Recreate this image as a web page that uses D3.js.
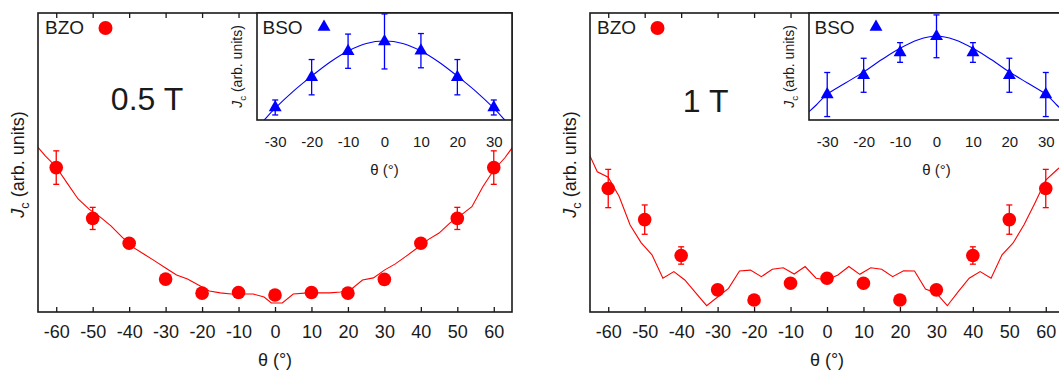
<!DOCTYPE html>
<html>
<head>
<meta charset="utf-8">
<script src="https://cdn.jsdelivr.net/npm/d3@7"></script>
<style>
  body { margin: 0; background: #fff; }
  svg { display: block; font-family: "Liberation Sans", Arial, Helvetica, sans-serif; }
</style>
</head>
<body>
<div id="chart"></div>
<script>
// angles and tick values
const mainTicks = [-60, -50, -40, -30, -20, -10, 0, 10, 20, 30, 40, 50, 60];
const insetTicks = [-30, -20, -10, 0, 10, 20, 30];
const bzoAngles = [-60, -50, -40, -30, -20, -10, 0, 10, 20, 30, 40, 50, 60];
const bsoAngles = [-30, -20, -10, 0, 10, 20, 30];
const fieldLabels = ['0.5 T', '1 T'];

// BZO measured Jc (arb. units, 0..100) and errors
const bzo05 = [48.3, 31.3, 23.0, 11.0, 6.3, 6.5, 5.7, 6.5, 6.3, 10.9, 23.0, 31.3, 48.3];
const bzo05Err = [5.6, 3.7, 0, 0, 0, 0, 0, 0, 0, 0, 0, 3.7, 5.6];
const bzo1 = [41.3, 30.9, 18.9, 7.4, 4.0, 9.6, 11.3, 9.6, 4.0, 7.4, 18.9, 30.9, 41.3];
const bzo1Err = [6.4, 4.9, 2.9, 0, 0, 0, 0, 0, 0, 0, 2.9, 4.9, 6.4];

// simulated curves
const simAngles05 = [-66, -63, -60, -57, -54, -51, -48, -45, -42, -39, -36, -33, -30, -27, -24, -21, -18, -15, -12, -9, -6, -3, -1,
  2, 5, 9, 12, 15, 18, 21, 24, 27, 30, 33, 36, 39, 42, 45, 48, 51, 54, 57, 60, 63, 66];
const sim05 = [56.5, 52.2, 48.5, 43.1, 37.8, 34.4, 31.8, 28.8, 25.1, 21.7, 19.4, 17.1, 14.7, 12.4, 11.0, 9.0, 7.0, 6.4, 6.0, 6.0, 6.0, 5.0, 3.0,
  3.0, 6.0, 6.4, 6.4, 6.4, 6.7, 7.7, 10.7, 11.4, 14.0, 16.1, 18.7, 21.4, 24.2, 26.4, 29.8, 32.4, 35.2, 41.9, 47.5, 51.5, 56.5];
const simAngles1 = [-66, -63, -60, -57, -54, -51, -48, -45, -42, -39, -36, -33, -30, -27, -24, -21, -18, -15, -12, -9, -6, -3, 0,
  3, 6, 9, 12, 15, 18, 21, 24, 27, 30, 33, 36, 39, 42, 45, 48, 51, 54, 57, 60, 63, 66];
const sim1 = [54.8, 46.9, 45.1, 38.6, 29.1, 23.2, 19.1, 11.3, 13.5, 10.7, 6.4, 2.1, 5.0, 7.9, 13.7, 14.0, 11.8, 14.3, 14.8, 12.7, 15.2, 11.3, 10.7,
  12.4, 15.2, 12.6, 14.8, 14.3, 11.8, 13.8, 13.7, 7.7, 6.3, 2.1, 6.8, 11.3, 13.5, 11.3, 19.1, 23.0, 29.1, 36.4, 44.1, 47.5, 50.8];

// BSO inset (arb. units, 0..1)
const bso05 = [0.117, 0.40, 0.643, 0.734, 0.648, 0.40, 0.117];
const bso05Err = [0.07, 0.165, 0.16, 0.257, 0.16, 0.165, 0.07];
const bso1 = [0.238, 0.418, 0.631, 0.782, 0.631, 0.418, 0.238];
const bso1Err = [0.206, 0.159, 0.092, 0.2, 0.092, 0.159, 0.206];
const fitAngles = [-35, -33, -30, -25, -20, -15, -10, -5, 0, 5, 10, 15, 20, 25, 30, 33, 35];
const fit05 = [-0.08, 0, 0.11, 0.27, 0.41, 0.54, 0.645, 0.715, 0.738, 0.715, 0.645, 0.54, 0.41, 0.27, 0.11, 0, -0.08];
const fit1 = [0.078, 0.14, 0.24, 0.345, 0.45, 0.565, 0.67, 0.75, 0.785, 0.75, 0.67, 0.565, 0.45, 0.345, 0.24, 0.14, 0.078];

const panels = [
  { x0: 38, label: fieldLabels[0], labelX: 109, labelY: 96.5,
    bzo: bzo05, bzoErr: bzo05Err, simX: simAngles05, sim: sim05,
    bso: bso05, bsoErr: bso05Err, fit: fit05 },
  { x0: 590, label: fieldLabels[1], labelX: 115.7, labelY: 98.7,
    bzo: bzo1, bzoErr: bzo1Err, simX: simAngles1, sim: sim1,
    bso: bso1, bsoErr: bso1Err, fit: fit1 }
];

const W = 1059, H = 373;
const plotTop = 13, width = 474, height = 299;
const inset = { left: 219, width: 255, height: 107 };
const red = '#ff0000', blue = '#0000ff', ink = '#1a1a1a';
const plain = d => String(d);   // keep ASCII hyphen like the original

const svg = d3.select('#chart').append('svg')
  .attr('width', W)
  .attr('height', H);

function errorBars(g, data, x, y, color) {
  const eb = g.append('g').attr('stroke', color).attr('stroke-width', 1.3);
  data.filter(d => d.e > 0).forEach(d => {
    const cx = x(d.a), y1 = y(d.v - d.e), y2 = y(d.v + d.e);
    eb.append('line').attr('x1', cx).attr('x2', cx).attr('y1', y1).attr('y2', y2);
    eb.append('line').attr('x1', cx - 3).attr('x2', cx + 3).attr('y1', y1).attr('y2', y1);
    eb.append('line').attr('x1', cx - 3).attr('x2', cx + 3).attr('y1', y2).attr('y2', y2);
  });
}

function yLabel(g, x, y, size) {
  const t = g.append('text')
    .attr('transform', `translate(${x},${y}) rotate(-90)`)
    .attr('text-anchor', 'middle')
    .attr('font-size', size)
    .attr('fill', ink);
  t.append('tspan').attr('font-style', 'italic').text('J');
  t.append('tspan').attr('font-size', size * 0.7).attr('dy', size * 0.25).text('c');
  t.append('tspan').attr('dy', -size * 0.25).text(' (arb. units)');
}

panels.forEach((p, i) => {
  const g = svg.append('g').attr('transform', `translate(${p.x0},${plotTop})`);

  const x = d3.scaleLinear().domain([-65, 65]).range([0, width]);
  const y = d3.scaleLinear().domain([0, 100]).range([height, 0]);

  const clipId = 'clip' + i;
  g.append('clipPath').attr('id', clipId)
    .append('rect').attr('width', width).attr('height', height);

  // bottom axis, inward ticks
  const xb = g.append('g')
    .attr('transform', `translate(0,${height})`)
    .call(d3.axisBottom(x).tickValues(mainTicks).tickFormat(plain).tickSize(-5).tickPadding(13));
  xb.select('.domain').remove();
  xb.selectAll('line').attr('stroke', ink).attr('stroke-width', 1.3);
  xb.selectAll('text').attr('font-size', 18).attr('fill', ink)
    .attr('font-family', '"Liberation Sans", Arial, sans-serif');

  const xt = g.append('g')
    .call(d3.axisTop(x).tickValues(mainTicks).tickSize(-5).tickFormat(''));
  xt.select('.domain').remove();
  xt.selectAll('line').attr('stroke', ink).attr('stroke-width', 1.3);

  g.append('text')
    .attr('x', width / 2).attr('y', 353)
    .attr('text-anchor', 'middle')
    .attr('font-size', 18).attr('fill', ink)
    .text('θ (°)');

  yLabel(g, -14, height / 2 + 2, 18);

  // simulation line
  g.append('path')
    .datum(p.simX.map((a, k) => ({ a, v: p.sim[k] })))
    .attr('clip-path', `url(#${clipId})`)
    .attr('fill', 'none')
    .attr('stroke', red)
    .attr('stroke-width', 1.1)
    .attr('d', d3.line().x(d => x(d.a)).y(d => y(d.v)));

  const pts = bzoAngles.map((a, k) => ({ a, v: p.bzo[k], e: p.bzoErr[k] }));
  errorBars(g, pts, x, y, red);
  g.append('g').selectAll('circle')
    .data(pts)
    .join('circle')
    .attr('cx', d => x(d.a))
    .attr('cy', d => y(d.v))
    .attr('r', 6.8)
    .attr('fill', red);

  // legend + field
  g.append('text').attr('x', 7).attr('y', 21)
    .attr('font-size', 19).attr('fill', ink).text('BZO');
  g.append('circle').attr('cx', 67.5).attr('cy', 15).attr('r', 7).attr('fill', red);
  g.append('text').attr('x', p.labelX).attr('y', p.labelY)
    .attr('text-anchor', 'middle')
    .attr('font-size', 32).attr('fill', ink).text(p.label);

  g.append('rect')
    .attr('width', width).attr('height', height)
    .attr('fill', 'none').attr('stroke', ink).attr('stroke-width', 1.6);

  // inset
  const ig = g.append('g').attr('transform', `translate(${inset.left},0)`);
  const ix = d3.scaleLinear().domain([-35, 35]).range([0, inset.width]);
  const iy = d3.scaleLinear().domain([0, 1]).range([inset.height, 0]);
  const iclip = 'iclip' + i;
  ig.append('clipPath').attr('id', iclip)
    .append('rect').attr('width', inset.width).attr('height', inset.height);

  ig.append('rect')
    .attr('width', inset.width).attr('height', inset.height)
    .attr('fill', '#fff');

  const ia = ig.append('g')
    .attr('transform', `translate(0,${inset.height})`)
    .call(d3.axisBottom(ix).tickValues(insetTicks).tickFormat(plain).tickSize(0).tickPadding(16));
  ia.select('.domain').remove();
  ia.selectAll('text').attr('font-size', 15).attr('fill', ink)
    .attr('font-family', '"Liberation Sans", Arial, sans-serif');

  ig.append('text')
    .attr('x', inset.width / 2).attr('y', 162)
    .attr('text-anchor', 'middle')
    .attr('font-size', 15).attr('fill', ink)
    .text('θ (°)');

  yLabel(ig, -15, inset.height / 2, 14);

  ig.append('path')
    .datum(fitAngles.map((a, k) => ({ a, v: p.fit[k] })))
    .attr('clip-path', `url(#${iclip})`)
    .attr('fill', 'none')
    .attr('stroke', blue)
    .attr('stroke-width', 1.1)
    .attr('d', d3.line().curve(d3.curveCardinal).x(d => ix(d.a)).y(d => iy(d.v)));

  const bpts = bsoAngles.map((a, k) => ({ a, v: p.bso[k], e: p.bsoErr[k] }));
  errorBars(ig, bpts, ix, iy, blue);
  const tri = d3.symbol().type(d3.symbolTriangle).size(72);
  ig.append('g').selectAll('path')
    .data(bpts)
    .join('path')
    .attr('transform', d => `translate(${ix(d.a)},${iy(d.v)})`)
    .attr('d', tri)
    .attr('fill', blue);

  ig.append('text').attr('x', 5.5).attr('y', 21)
    .attr('font-size', 19).attr('fill', ink).text('BSO');
  ig.append('path')
    .attr('transform', 'translate(67,14)')
    .attr('d', tri)
    .attr('fill', blue);

  ig.append('rect')
    .attr('width', inset.width).attr('height', inset.height)
    .attr('fill', 'none').attr('stroke', ink).attr('stroke-width', 1.6);
});
</script>
</body>
</html>
